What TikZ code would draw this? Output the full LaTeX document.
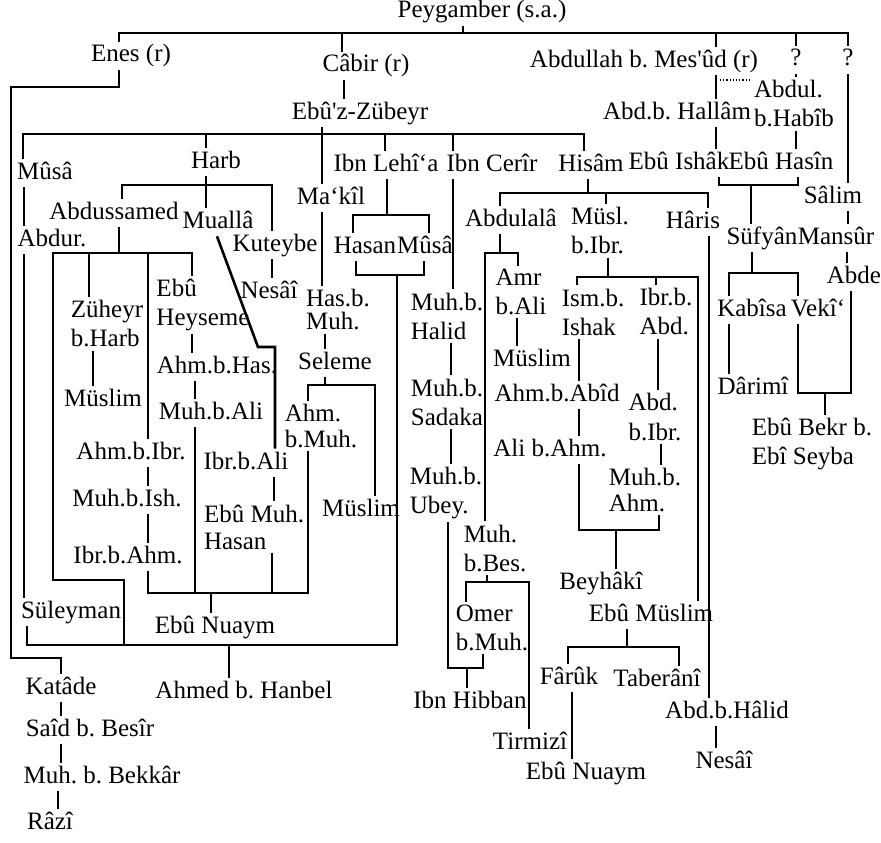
\documentclass[tikz,border=0pt]{standalone}
\usepackage{fontspec}
\setmainfont{Liberation Serif}
\usepackage{tikz}
\frenchspacing

\begin{document}
\begin{tikzpicture}[
        x = 1pt, y = -1pt, % pixel grid, y runs downwards
        line width = 2.6pt, % line style
        font = \fontsize{25}{29}\selectfont
    ]

    \tikzstyle{ravi}=[
        inner sep = 2pt,
        text height = 17pt,
        text depth = 5pt
    ]
    \tikzstyle{ravitwo}=[
        inner sep = 2pt,
        align = left
    ]

    \useasboundingbox (0,0) rectangle (881,843);

    % first generation
    \node[ravi] (peyg) at (482,12) {Peygamber (s.a.)};
    \node[ravi] (enes) at (131,56) {Enes (r)};
    \node[ravi] (cabir) at (366,66) {Câbir (r)};
    \node[ravi] (mesud) at (644,61) {Abdullah b. Mes\textquotesingle ûd (r)};
    \node[ravi] (q1) at (796,60) {?};
    \node[ravi] (q2) at (848,60) {?};

    \node[ravi] (zubeyr) at (360,113) {Ebû\textquotesingle z-Zübeyr};
    \node[ravi] (hallam) at (677,113) {Abd.b. Hallâm};
    \node[ravitwo] (habib) at (794,104) {Abdul.\\b.Habîb};

    \node[ravi] (musa1) at (45,173) {Mûsâ};
    \node[ravi] (harb) at (216,162) {Harb};
    \node[ravi] (makil) at (331,198) {Ma‘kîl};
    \node[ravi] (lehia) at (386,165) {Ibn Lehî‘a};
    \node[ravi] (cerir) at (492,165) {Ibn Cerîr};
    \node[ravi] (hisam) at (591,165) {Hisâm};
    \node[ravi] (ishak) at (679,163) {Ebû Ishâk};
    \node[ravi] (hasin) at (781,163) {Ebû Hasîn};
    \node[ravi] (salim) at (833,197) {Sâlim};

    \node[ravi] (abdussamed) at (114,213) {Abdussamed};
    \node[ravi] (mualla) at (218,222) {Muallâ};
    \node[ravi] (abdur) at (52,240) {Abdur.};
    \node[ravi] (kuteybe) at (275,245) {Kuteybe};
    \node[ravi] (hasan1) at (365,247) {Hasan};
    \node[ravi] (musa2) at (425,247) {Mûsâ};
    \node[ravi] (abdulala) at (511,220) {Abdulalâ};
    \node[ravitwo] (musl) at (600,231) {Müsl.\\b.Ibr.};
    \node[ravi] (haris) at (693,222) {Hâris};
    \node[ravi] (sufyan) at (762,238) {Süfyân};
    \node[ravi] (mansur) at (836,238) {Mansûr};
    \node[ravi] (abde) at (854,277) {Abde};

    % middle
    \node[ravitwo] (zuheyr) at (107,324) {Züheyr\\b.Harb};
    \node[ravitwo] (heyseme) at (203,305) {Ebû\\Heyseme};
    \node[ravi] (nesai1) at (269,292) {Nesâî};
    \node[ravitwo] (hasbmuh) at (338,310) {Has.b.\\[-6pt]Muh.};
    \node[ravitwo] (halid) at (447,316) {Muh.b.\\Halid};
    \node[ravitwo] (amr) at (521,292) {Amr\\b.Ali};
    \node[ravitwo] (ismb) at (593,312) {Ism.b.\\Ishak};
    \node[ravitwo] (ibrbabd) at (666,312) {Ibr.b.\\Abd.};
    \node[ravi] (kabisa) at (752,310) {Kabîsa};
    \node[ravi] (veki) at (818,310) {Vekî‘};

    \node[ravi] (ahmbhas) at (217,367) {Ahm.b.Has.};
    \node[ravi] (seleme) at (335,363) {Seleme};
    \node[ravi] (muslim1) at (103,400) {Müslim};
    \node[ravi] (muhbali) at (211,413) {Muh.b.Ali};
    \node[ravitwo] (ahmbmuh) at (321,426) {Ahm.\\[-3pt]b.Muh.};
    \node[ravitwo] (sadaka) at (447,402) {Muh.b.\\Sadaka};
    \node[ravi] (muslim3) at (532,360) {Müslim};
    \node[ravi] (ahmbabid) at (557,395) {Ahm.b.Abîd};
    \node[ravitwo] (abdbibr) at (655,417) {Abd.\\b.Ibr.};
    \node[ravi] (darimi) at (753,388) {Dârimî};
    \node[ravitwo] (ebubekr) at (812,444) {Ebû Bekr b.\\Ebî Seyba};

    \node[ravi] (ahmbibr) at (131,453) {Ahm.b.Ibr.};
    \node[ravi] (ibrbali) at (246,463) {Ibr.b.Ali};
    \node[ravi] (muslim2) at (361,510) {Müslim};
    \node[ravitwo] (ubey) at (446,493) {Muh.b.\\Ubey.};
    \node[ravi] (alibahm) at (550,450) {Ali b.Ahm.};
    \node[ravitwo] (muhbahm) at (645,490) {Muh.b.\\[-3pt]Ahm.};
    \node[ravi] (muhbish) at (127,500) {Muh.b.Ish.};
    \node[ravitwo] (ebumuh) at (254,527) {Ebû Muh.\\[-2pt]Hasan};
    \node[ravi] (ibrbahm) at (128,557) {Ibr.b.Ahm.};
    \node[ravitwo] (muhbes) at (495,548) {Muh.\\b.Bes.};
    \node[ravi] (beyhaki) at (601,583) {Beyhâkî};

    % collectors
    \node[ravi] (suleyman) at (71,612) {Süleyman};
    \node[ravi] (ebunuaym1) at (215,627) {Ebû Nuaym};
    \node[ravi] (ebumuslim) at (651,615) {Ebû Müslim};
    \node[ravitwo] (omer) at (492,628) {Omer\\b.Muh.};
    \node[ravi] (katade) at (61,688) {Katâde};
    \node[ravi] (hanbel) at (244,692) {Ahmed b. Hanbel};
    \node[ravi] (hibban) at (470,702) {Ibn Hibban};
    \node[ravi] (faruk) at (569,678) {Fârûk};
    \node[ravi] (taberani) at (657,680) {Taberânî};
    \node[ravi] (abdbhalid) at (727,712) {Abd.b.Hâlid};
    \node[ravi] (said) at (90,730) {Saîd b. Besîr};
    \node[ravi] (tirmizi) at (530,743) {Tirmizî};
    \node[ravi] (nesai2) at (724,762) {Nesâî};
    \node[ravi] (ebunuaym2) at (586,773) {Ebû Nuaym};
    \node[ravi] (bekkar) at (102,777) {Muh. b. Bekkâr};
    \node[ravi] (razi) at (50,823) {Râzî};

    % Peygamber
    \draw (peyg.south -| 463,0) -- (463,33) -| (enes.north -| 119,0)
          (463,33) -| (cabir.north -| 342,0)
          (463,33) -| (mesud.north -| 716,0)
          (463,33) -| (q1.north -| 796,0)
          (463,33) -| (q2.north -| 848,0);

    % Enes
    \draw (enes.south -| 119,0) -- (119,87) -- (11,87) -- (11,658) -| (katade.north -| 61,0);
    \draw (katade.south -| 61,0) -- (said.north -| 61,0);
    \draw (said.south -| 61,0) -- (bekkar.north -| 61,0);
    \draw (bekkar.south -| 58,0) -- (razi.north -| 58,0);

    % Cabir
    \draw (cabir.south -| 344,0) -- (zubeyr.north -| 344,0);
    \draw (zubeyr.south -| 322,0) -- (322,134) -| (musa1.north -| 23,0)
          (322,134) -| (harb.north -| 206,0)
          (322,134) -- (makil.north -| 322,0)
          (322,134) -| (lehia.north -| 385,0)
          (322,134) -| (cerir.north -| 453,0)
          (322,134) -| (hisam.north -| 584,0);

    \draw (musa1.south -| 24,0) -- (abdur.north -| 24,0);
    \draw (abdur.south -| 24,0) -- (suleyman.north -| 24,0);
    \draw (suleyman.south -| 27,0) -- (27,645) -| (hanbel.north -| 229,0);

    % Harb
    \draw (harb.south -| 206,0) -- (206,185) -| (abdussamed.north -| 122,0)
          (206,185) -| (kuteybe.north -| 272,0)
          (206,185) -- (mualla.north -| 206,0);
    \draw (kuteybe.south -| 272,0) -- (nesai1.north -| 272,0);
    \draw (mualla.south -| 217,0) -- (258,347) -| (ibrbali.north -| 275,0);

    \draw (abdussamed.south -| 119,0) -- (119,253) -| (zuheyr.north -| 89,0)
          (119,253) -| (ahmbibr.north -| 148,0)
          (119,253) -| (heyseme.north -| 192,0);
    \draw (119,253) -| (53,580) -| (124,645) -| (hanbel.north -| 229,0);

    \draw (zuheyr.south -| 93,0) -- (muslim1.north -| 93,0);
    \draw (heyseme.south -| 192,0) -- (ahmbhas.north -| 192,0);
    \draw (ahmbhas.south -| 195,0) -- (muhbali.north -| 195,0);
    \draw (muhbali.south -| 195,0) -- (195,593) -| (ebunuaym1.north -| 211,0);
    \draw (ahmbibr.south -| 148,0) -- (muhbish.north -| 148,0);
    \draw (muhbish.south -| 148,0) -- (ibrbahm.north -| 148,0);
    \draw (ibrbahm.south -| 148,0) -- (148,593) -| (ebunuaym1.north -| 211,0);
    \draw (ibrbali.south -| 274,0) -- (ebumuh.north -| 274,0);
    \draw (ebumuh.south -| 272,0) -- (272,593) -| (ebunuaym1.north -| 211,0);
    \draw (ahmbmuh.south -| 308,0) -- (308,593) -| (ebunuaym1.north -| 211,0);

    % Ma'kil
    \draw (makil.south -| 322,0) -- (hasbmuh.north -| 322,0);
    \draw (hasbmuh.south -| 325,0) -- (seleme.north -| 325,0);
    \draw (seleme.south -| 325,0) -- (325,385) -| (ahmbmuh.north -| 308,0)
          (325,385) -| (muslim2.north -| 375,0);

    % Ibn Lehi'a
    \draw (lehia.south -| 387,0) -- (387,215) -| (hasan1.north -| 353,0)
          (387,215) -| (musa2.north -| 429,0);
    \draw (hasan1.south -| 356,0) -- (356,275) -| (musa2.south -| 424,0);
    \draw (397,275) -- (397,645) -| (hanbel.north -| 229,0);

    % Ibn Cerir
    \draw (cerir.south -| 453,0) -- (halid.north -| 453,0);
    \draw (halid.south -| 451,0) -- (sadaka.north -| 451,0);
    \draw (sadaka.south -| 451,0) -- (ubey.north -| 451,0);
    \draw (ubey.south -| 448,0) -- (448,668) -| (hibban.north -| 467,0);
    \draw (omer.south -| 483,0) -- (483,668) -| (hibban.north -| 467,0);

    % Hisam
    \draw (hisam.south -| 588,0) -- (588,193) -| (abdulala.north -| 500,0)
          (588,193) -| (musl.north -| 606,0)
          (588,193) -| (haris.north -| 708,0);
    \draw (abdulala.south -| 500,0) -- (500,253) -| (amr.north -| 518,0)
          (500,253) -| (muhbes.north -| 485,0);
    \draw (amr.south -| 517,0) -- (muslim3.north -| 517,0);
    \draw (muhbes.south -| 487,0) -- (487,582) -| (omer.north -| 466,0)
          (487,582) -| (tirmizi.north -| 529,0);

    \draw (musl.south -| 608,0) -- (608,277) -| (ismb.north -| 577,0)
          (608,277) -| (ibrbabd.north -| 656,0)
          (608,277) -| (ebumuslim.north -| 698,0);
    \draw (ismb.south -| 579,0) -- (ahmbabid.north -| 579,0);
    \draw (ahmbabid.south -| 579,0) -- (alibahm.north -| 579,0);
    \draw (alibahm.south -| 579,0) -- (579,530) -| (beyhaki.north -| 616,0);
    \draw (ibrbabd.south -| 658,0) -- (abdbibr.north -| 658,0);
    \draw (abdbibr.south -| 661,0) -- (muhbahm.north -| 661,0);
    \draw (muhbahm.south -| 659,0) -- (659,530) -| (beyhaki.north -| 616,0);

    \draw (ebumuslim.south -| 627,0) -- (627,647) -| (faruk.north -| 568,0)
          (627,647) -| (taberani.north -| 679,0);
    \draw (faruk.south -| 572,0) -- (ebunuaym2.north -| 572,0);
    \draw (haris.south -| 709,0) -- (abdbhalid.north -| 709,0);
    \draw (abdbhalid.south -| 716,0) -- (nesai2.north -| 716,0);

    % Ibn Mes'ud and the unknown ones
    \draw (mesud.south -| 716,0) -- (hallam.north -| 716,0);
    \draw[dotted, line width = 1.2pt] (720,80) -- (habib.west |- 0,80);
    \draw (hallam.south -| 716,0) -- (ishak.north -| 716,0);
    \draw (q1.south -| 796,0) -- (habib.north -| 796,0);
    \draw (habib.south -| 796,0) -- (hasin.north -| 796,0);
    \draw (ishak.south -| 719,0) -- (719,185) -| (sufyan.north -| 751,0);
    \draw (hasin.south -| 798,0) -- (798,185) -| (sufyan.north -| 751,0);

    \draw (q2.south -| 848,0) -- (salim.north -| 848,0);
    \draw (salim.south -| 848,0) -- (mansur.north -| 848,0);
    \draw (mansur.south -| 847,0) -- (abde.north -| 847,0);

    \draw (sufyan.south -| 752,0) -- (752,273) -| (kabisa.north -| 729,0)
          (752,273) -| (veki.north -| 798,0);
    \draw (kabisa.south -| 729,0) -- (darimi.north -| 729,0);
    \draw (veki.south -| 798,0) -- (798,393) -| (ebubekr.north -| 825,0);
    \draw (abde.south -| 851,0) -- (851,393) -| (ebubekr.north -| 825,0);

\end{tikzpicture}
\end{document}
